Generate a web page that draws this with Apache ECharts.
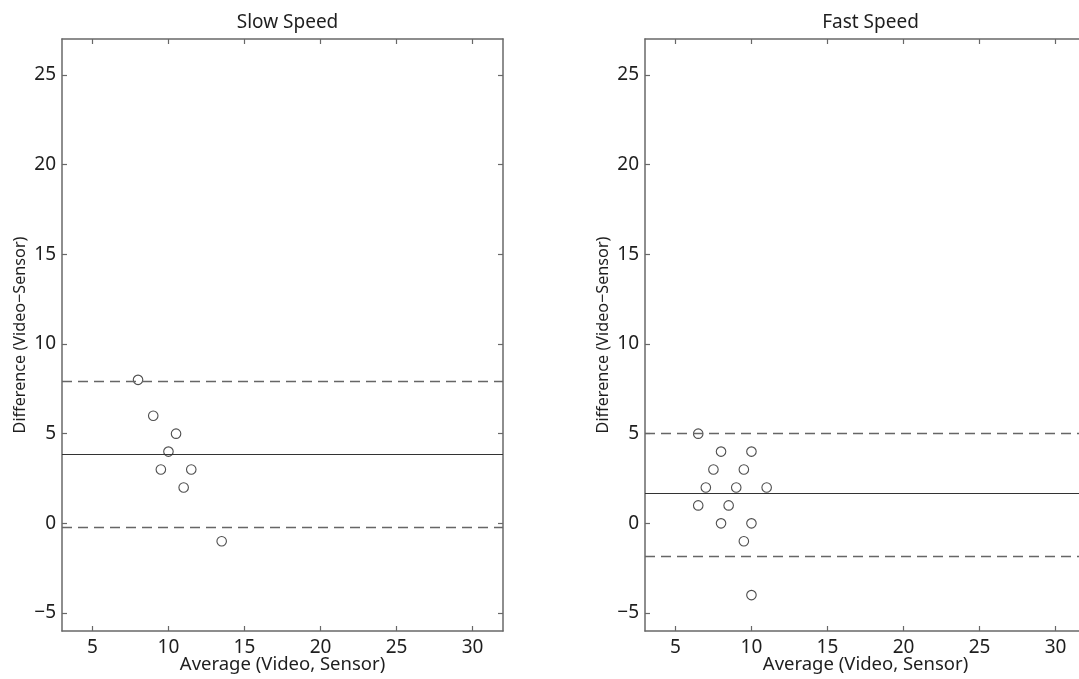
<!DOCTYPE html>
<html>
<head>
<meta charset="utf-8">
<title>Bland-Altman: Slow vs Fast Speed</title>
<script src="https://cdn.jsdelivr.net/npm/echarts@6/dist/echarts.min.js"></script>
<style>
  html, body { margin: 0; padding: 0; background: #fff; }
  #chart { width: 1079px; height: 679px; }
</style>
</head>
<body>
<div id="chart"></div>
<script>
// Panel titles and axis names
const panelTitles = ['Slow Speed', 'Fast Speed'];
const xName = 'Average (Video, Sensor)';
const yName = 'Difference (Video\u2212Sensor)';

// Tick positions and labels
const xTicks = [5, 10, 15, 20, 25, 30];
const yTicks = [-5, 0, 5, 10, 15, 20, 25];
const xRange = [3, 32];
const yRange = [-6, 27];

// Slow speed: average vs difference
const slowAvg  = [8, 9, 10.5, 10, 9.5, 11.5, 11, 13.5];
const slowDiff = [8, 6, 5, 4, 3, 3, 2, -1];
const slowMean = 3.84;
const slowLimits = [7.92, -0.22];

// Fast speed: average vs difference
const fastAvg  = [6.5, 8, 10, 7.5, 9.5, 7, 9, 11, 6.5, 8.5, 8, 10, 9.5, 10];
const fastDiff = [5, 4, 4, 3, 3, 2, 2, 2, 1, 1, 0, 0, -1, -4];
const fastMean = 1.68;
const fastLimits = [5.0, -1.85];

const FONT = 'Noto Sans';
const AXIS_COLOR = '#686868';
const TEXT_COLOR = '#1e1e1e';
const PANEL_W = 441;

// Right panel runs past the page edge, so bounds are not clamped
const grids = [
  { left: 62, top: 39, width: PANEL_W, height: 592, outerBoundsMode: 'none', containLabel: false },
  { left: 645, top: 39, width: PANEL_W, height: 592, outerBoundsMode: 'none', containLabel: false }
];

function pairs(xs, ys) {
  return xs.map((x, i) => [x, ys[i]]);
}

function xAxisFor(gridIndex, position) {
  const main = position === 'bottom';
  return {
    type: 'value', gridIndex, position,
    min: xRange[0], max: xRange[1],
    name: main ? xName : '',
    nameLocation: 'middle', nameGap: 24, nameMoveOverlap: false,
    nameTextStyle: { fontFamily: FONT, fontSize: 18.5, color: TEXT_COLOR },
    axisLine: { show: true, onZero: false, lineStyle: { color: AXIS_COLOR, width: 1.5 } },
    axisTick: { show: true, inside: true, length: 5, customValues: xTicks,
                lineStyle: { color: AXIS_COLOR, width: 1.2 } },
    axisLabel: { show: main, customValues: xTicks, margin: 7,
                 fontFamily: FONT, fontSize: 19, color: TEXT_COLOR },
    splitLine: { show: false }
  };
}

function yAxisFor(gridIndex, position) {
  const main = position === 'left';
  return {
    type: 'value', gridIndex, position,
    min: yRange[0], max: yRange[1],
    name: main ? yName : '',
    nameLocation: 'middle', nameGap: 34, nameMoveOverlap: false,
    nameTextStyle: { fontFamily: FONT, fontSize: 16.2, color: TEXT_COLOR },
    axisLine: { show: true, onZero: false, lineStyle: { color: AXIS_COLOR, width: 1.5 } },
    axisTick: { show: true, inside: true, length: 5, customValues: yTicks,
                lineStyle: { color: AXIS_COLOR, width: 1.2 } },
    axisLabel: { show: main, customValues: yTicks, margin: 6,
                 fontFamily: FONT, fontSize: 19, color: TEXT_COLOR,
                 formatter: v => v < 0 ? '\u2212' + Math.abs(v) : String(v) },
    splitLine: { show: false }
  };
}

function panelSeries(idx, xs, ys, mean, limits) {
  return {
    type: 'scatter',
    xAxisIndex: idx * 2, yAxisIndex: idx * 2,
    data: pairs(xs, ys),
    symbol: 'circle', symbolSize: 9.5,
    itemStyle: { color: 'rgba(0,0,0,0)', borderColor: '#222', borderWidth: 1.1 },
    emphasis: { disabled: true },
    silent: true,
    markLine: {
      silent: true, symbol: 'none',
      label: { show: false },
      data: [
        { yAxis: mean, lineStyle: { type: 'solid', color: '#333', width: 1.1 } },
        { yAxis: limits[0], lineStyle: { type: [10, 6], color: '#666', width: 1.4 } },
        { yAxis: limits[1], lineStyle: { type: [10, 6], color: '#666', width: 1.4 } }
      ]
    }
  };
}

const chart = echarts.init(document.getElementById('chart'), null, { renderer: 'canvas' });
chart.setOption({
  animation: false,
  backgroundColor: '#fff',
  title: panelTitles.map((t, i) => ({
    text: t,
    left: grids[i].left + PANEL_W / 2, top: 8,
    textAlign: 'center',
    textStyle: { fontFamily: FONT, fontSize: 19, fontWeight: 'normal', color: TEXT_COLOR }
  })),
  grid: grids,
  xAxis: [xAxisFor(0, 'bottom'), xAxisFor(0, 'top'), xAxisFor(1, 'bottom'), xAxisFor(1, 'top')],
  yAxis: [yAxisFor(0, 'left'), yAxisFor(0, 'right'), yAxisFor(1, 'left'), yAxisFor(1, 'right')],
  series: [
    panelSeries(0, slowAvg, slowDiff, slowMean, slowLimits),
    panelSeries(1, fastAvg, fastDiff, fastMean, fastLimits)
  ]
});
</script>
</body>
</html>
